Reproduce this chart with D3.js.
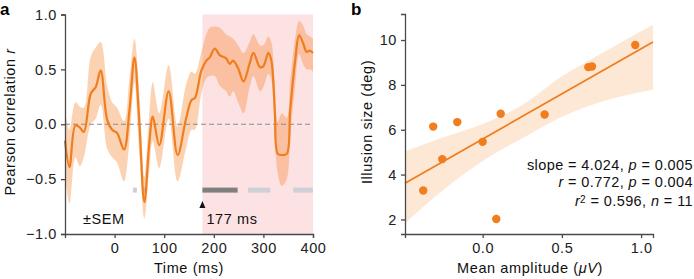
<!DOCTYPE html>
<html>
<head>
<meta charset="utf-8">
<script src="https://cdn.jsdelivr.net/npm/d3@7"></script>
<style>
  html, body { margin: 0; padding: 0; background: #fff; }
  svg { display: block; font-family: "Liberation Sans", Arial, Helvetica, sans-serif; }
  .tick text { font-size: 14.5px; fill: #222; }
</style>
</head>
<body>
<div id="chart"></div>
<script>
// Panel a: correlation time course (ms, Pearson r, lower / upper SEM)
const timeMs = [-100, -91, -79, -70, -62, -48, -38, -28, -15, -5, 5, 19, 30, 40, 50, 60, 70, 77, 90, 109, 127, 144, 155, 162, 175, 185, 192, 202, 212, 225, 232, 239, 249, 260, 272, 280, 293, 300, 310, 316, 323, 329, 337, 347, 354, 364, 372, 380, 387, 394, 400];
const meanR  = [-0.15, -0.39, -0.01, -0.03, -0.07, 0.28, 0.34, 0.49, 0.04, -0.05, -0.08, -0.23, 0.13, 0.61, 0.0, -0.71, -0.17, 0.07, -0.19, 0.30, -0.28, 0.05, 0.22, 0.24, 0.49, 0.58, 0.61, 0.69, 0.63, 0.60, 0.55, 0.58, 0.51, 0.39, 0.55, 0.65, 0.52, 0.53, 0.65, 0.58, 0.13, -0.27, -0.28, -0.27, 0.13, 0.58, 0.81, 0.74, 0.66, 0.67, 0.65];
const semLo  = [-0.45, -0.72, -0.30, -0.38, -0.30, 0.00, 0.05, 0.18, -0.22, -0.30, -0.35, -0.52, -0.15, 0.38, -0.28, -0.86, -0.42, -0.15, -0.40, 0.05, -0.52, -0.22, -0.05, -0.05, 0.28, 0.42, 0.44, 0.44, 0.35, 0.30, 0.25, 0.30, 0.20, 0.10, 0.33, 0.44, 0.30, 0.34, 0.46, 0.40, -0.15, -0.45, -0.56, -0.50, -0.12, 0.35, 0.64, 0.55, 0.50, 0.50, 0.48];
const semHi  = [0.13, -0.05, 0.20, 0.16, 0.15, 0.62, 0.70, 0.75, 0.35, 0.20, 0.15, 0.03, 0.42, 0.78, 0.28, -0.48, 0.10, 0.38, 0.10, 0.54, -0.02, 0.36, 0.48, 0.46, 0.66, 0.82, 0.88, 0.89, 0.88, 0.82, 0.80, 0.78, 0.72, 0.65, 0.75, 0.82, 0.72, 0.72, 0.80, 0.75, 0.36, 0.02, 0.10, 0.06, 0.40, 0.78, 0.94, 0.90, 0.82, 0.80, 0.78];
const sigStart = [37, 55, 177, 269, 360];
const sigEnd   = [45, 63, 248, 314, 400];
const sigDark  = [false, false, true, false, false];
const onsetMs = 177;
const windowMs = [177, 400];

// Panel b: mean amplitude (µV) vs illusion size (deg)
const ampUV   = [-0.375, -0.312, -0.255, -0.160, 0.000, 0.086, 0.114, 0.391, 0.667, 0.690, 0.963];
const sizeDeg = [3.29, 6.14, 4.69, 6.34, 5.46, 2.02, 6.71, 6.68, 8.79, 8.82, 9.78];
// confidence band of the fit
const bandX  = [-0.49, -0.25, 0.0, 0.25, 0.5, 0.75, 1.075];
const bandLo = [1.83, 3.30, 4.60, 5.62, 6.58, 7.25, 7.78];
const bandHi = [5.03, 5.65, 6.25, 7.10, 8.38, 9.40, 10.68];
const statLines = [
  [["slope = 4.024, ", ""], ["p", "i"], [" = 0.005", ""]],
  [["r", "i"], [" = 0.772, ", ""], ["p", "i"], [" = 0.004", ""]],
  [["r", "i"], ["2", "sup"], [" = 0.596, ", ""], ["n", "i"], [" = 11", ""]]
];

const W = 694, H = 279;
const orange = '#f07d1e';
const axisCol = '#4a4a4a';

const svg = d3.select('#chart').append('svg').attr('width', W).attr('height', H);

function styleAxis(g) {
  g.select('.domain').attr('stroke', axisCol).attr('stroke-width', 1.3);
  g.selectAll('.tick line').attr('stroke', axisCol).attr('stroke-width', 1.3);
  g.selectAll('.tick text').attr('fill', '#222').style('font-size', '14.5px').style('letter-spacing', '0.6px');
}

// ---------- panel a ----------
const xa = d3.scaleLinear().domain([-100, 400]).range([65, 313]);
const ya = d3.scaleLinear().domain([-1, 1]).range([234, 14.5]);
const ga = svg.append('g');

ga.append('rect')
  .attr('x', xa(windowMs[0])).attr('y', ya(1))
  .attr('width', xa(windowMs[1]) - xa(windowMs[0])).attr('height', ya(-1) - ya(1))
  .attr('fill', '#fde2e4');

const rows = timeMs.map((t, i) => ({t, m: meanR[i], lo: semLo[i], hi: semHi[i]}));
const curve = d3.curveCatmullRom.alpha(0.5);

// significance bars (light ones under the band)
sigStart.forEach((s, i) => {
  ga.append('rect')
    .attr('x', xa(s)).attr('y', ya(-0.6) - 2.5)
    .attr('width', xa(sigEnd[i]) - xa(s)).attr('height', 5)
    .attr('fill', sigDark[i] ? '#7f7f7f' : '#cfd0d6');
});

ga.append('path').datum(rows)
  .attr('d', d3.area().x(d => xa(d.t)).y0(d => ya(d.lo)).y1(d => ya(d.hi)).curve(curve))
  .attr('fill', '#f5862a').attr('fill-opacity', 0.36);

ga.append('line')
  .attr('x1', xa(-100)).attr('x2', xa(400)).attr('y1', ya(0)).attr('y2', ya(0))
  .attr('stroke', '#8a8a8a').attr('stroke-width', 1.2).attr('stroke-dasharray', '5,3');

ga.append('path').datum(rows)
  .attr('d', d3.line().x(d => xa(d.t)).y(d => ya(d.m)).curve(curve))
  .attr('fill', 'none').attr('stroke', orange).attr('stroke-width', 2.2);

// onset marker
const mx = xa(onsetMs), my = 201;
ga.append('path')
  .attr('d', `M${mx},${my} L${mx - 3},${my + 7} L${mx + 3},${my + 7} Z`)
  .attr('fill', '#111');
ga.append('text').attr('x', mx + 4).attr('y', 224)
  .style('font-size', '14.5px').style('letter-spacing', '0.6px').attr('fill', '#111')
  .text(`${onsetMs} ms`);
ga.append('text').attr('x', 83).attr('y', 224)
  .style('font-size', '14.5px').style('letter-spacing', '0.6px').attr('fill', '#111')
  .text('±SEM');

ga.append('g').attr('transform', `translate(0,${ya(-1)})`)
  .call(d3.axisBottom(xa).tickValues([0, 100, 200, 300, 400]).tickSizeOuter(0).tickSize(4).tickPadding(5))
  .call(styleAxis);
ga.append('g').attr('transform', `translate(${xa(-100)},0)`)
  .call(d3.axisLeft(ya).tickValues([-1, -0.5, 0, 0.5, 1]).tickFormat(d3.format('.1f')).tickSizeOuter(0).tickSize(4).tickPadding(4))
  .call(styleAxis);

ga.append('text').attr('x', 189).attr('y', 273).attr('text-anchor', 'middle')
  .style('font-size', '14.5px').style('letter-spacing', '0.6px').attr('fill', '#111')
  .text('Time (ms)');
const yla = ga.append('text').attr('transform', 'translate(15,122) rotate(-90)').attr('text-anchor', 'middle')
  .style('font-size', '14.5px').style('letter-spacing', '0.6px').attr('fill', '#111');
yla.append('tspan').text('Pearson correlation ');
yla.append('tspan').attr('font-style', 'italic').text('r');

svg.append('text').attr('x', 0).attr('y', 15).style('font-size', '17px').style('font-weight', 'bold').text('a');

// ---------- panel b ----------
const xb = d3.scaleLinear().domain([-0.49, 1.075]).range([405, 653]);
const yb = d3.scaleLinear().domain([1.35, 11.16]).range([234, 14]);
const gb = svg.append('g');

const bandRows = bandX.map((x, i) => ({x, lo: bandLo[i], hi: bandHi[i]}));
gb.append('path').datum(bandRows)
  .attr('d', d3.area().x(d => xb(d.x)).y0(d => yb(d.lo)).y1(d => yb(d.hi)).curve(d3.curveMonotoneX))
  .attr('fill', '#f7a25a').attr('fill-opacity', 0.25);

// least squares fit
const mX = d3.mean(ampUV), mY = d3.mean(sizeDeg);
const sxy = d3.sum(ampUV, (x, i) => (x - mX) * (sizeDeg[i] - mY));
const sxx = d3.sum(ampUV, x => (x - mX) ** 2);
const slope = sxy / sxx, icpt = mY - slope * mX;
const xd = xb.domain();
gb.append('line')
  .attr('x1', xb(xd[0])).attr('y1', yb(icpt + slope * xd[0]))
  .attr('x2', xb(xd[1])).attr('y2', yb(icpt + slope * xd[1]))
  .attr('stroke', orange).attr('stroke-width', 1.8);

gb.append('g').selectAll('circle')
  .data(ampUV.map((x, i) => [x, sizeDeg[i]]))
  .join('circle')
  .attr('cx', d => xb(d[0])).attr('cy', d => yb(d[1])).attr('r', 4.2)
  .attr('fill', orange);

gb.append('g').attr('transform', `translate(0,${yb.range()[0]})`)
  .call(d3.axisBottom(xb).tickValues([0, 0.5, 1]).tickFormat(d3.format('.1f')).tickSizeOuter(0).tickSize(4).tickPadding(5))
  .call(styleAxis);
gb.append('g').attr('transform', `translate(${xb.range()[0]},0)`)
  .call(d3.axisLeft(yb).tickValues([2, 4, 6, 8, 10]).tickSizeOuter(0).tickSize(4).tickPadding(4))
  .call(styleAxis);

const statY = [170, 187, 206];
statLines.forEach((parts, i) => {
  const t = gb.append('text').attr('x', 693).attr('y', statY[i]).attr('text-anchor', 'end')
    .style('font-size', '14.5px').style('letter-spacing', '0.4px').attr('fill', '#111');
  parts.forEach(([s, k]) => {
    const sp = t.append('tspan').text(s);
    if (k === 'i') sp.attr('font-style', 'italic');
    if (k === 'sup') sp.attr('baseline-shift', '35%').style('font-size', '10px');
  });
});

const xlb = gb.append('text').attr('x', 530).attr('y', 273).attr('text-anchor', 'middle')
  .style('font-size', '14.5px').style('letter-spacing', '0.6px').attr('fill', '#111');
xlb.append('tspan').text('Mean amplitude (');
xlb.append('tspan').attr('font-style', 'italic').text('μV');
xlb.append('tspan').text(')');
gb.append('text').attr('transform', 'translate(372,122) rotate(-90)').attr('text-anchor', 'middle')
  .style('font-size', '14.5px').style('letter-spacing', '0.6px').attr('fill', '#111')
  .text('Illusion size (deg)');

svg.append('text').attr('x', 351).attr('y', 15).style('font-size', '17px').style('font-weight', 'bold').text('b');
</script>
</body>
</html>
